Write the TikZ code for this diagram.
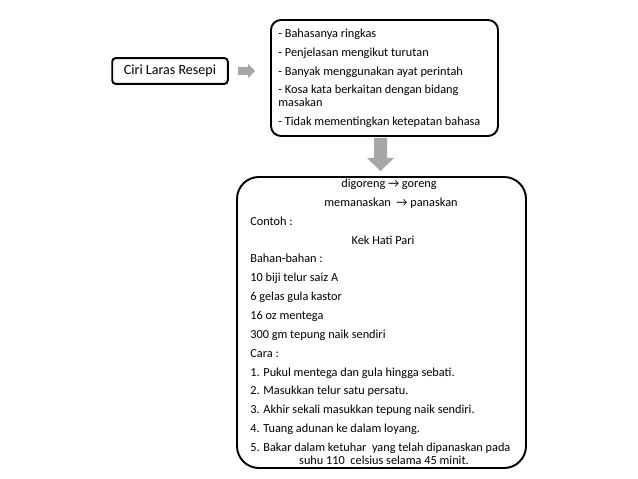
\documentclass[tikz,border=0pt]{standalone}
\usepackage{fontspec}
\setmainfont{Carlito}

\begin{document}
\begin{tikzpicture}[x=0.02cm, y=-0.02cm,
    txt/.style = {inner sep=0pt, text height=5pt, text depth=1.5pt,
                  font=\fontsize{7}{8.5}\selectfont},
    box/.style = {draw, line width=1.1pt},
    grey arrow/.style = {fill=black!35, draw=none}]
     \useasboundingbox (0,0) rectangle (638,479);

     % left label
     \node[box, rounded corners=2pt, minimum width=116*0.567pt, minimum height=26*0.567pt,
           font=\fontsize{8}{9}\selectfont] (ciri) at (170,71) {Ciri Laras Resepi};

     % top box with the list
     \draw[box, rounded corners=10*0.567pt] (271,20) rectangle (498,136);
     \node[txt, anchor=west] (c1) at (278,34) {- Bahasanya ringkas};
     \node[txt, anchor=west] (c2) at (278,53) {- Penjelasan mengikut turutan};
     \node[txt, anchor=west] (c3) at (278,72) {- Banyak menggunakan ayat perintah};
     \node[txt, anchor=west] (c4) at (278,90) {- Kosa kata berkaitan dengan bidang};
     \node[txt, anchor=west] (c4b) at (278,103) {masakan};
     \node[txt, anchor=west] (c5) at (278,122) {- Tidak mementingkan ketepatan bahasa};

     % arrows
     \fill[grey arrow] (238,67) -- (248,67) -- (248,64) -- (255,71) -- (248,78)
                       -- (248,75) -- (238,75) -- cycle;
     \fill[grey arrow] (374,138) -- (387,138) -- (387,158) -- (394,158) -- (380.5,171)
                       -- (367,158) -- (374,158) -- cycle;

     % bottom box with the example
     \draw[box, rounded corners=22*0.567pt] (237,177) rectangle (526,468);
     \node[txt] (e1) at (389,184) {digoreng → goreng};
     \node[txt] (e2) at (391,203) {memanaskan ~→ panaskan};
     \node[txt, anchor=west] (e3) at (250,222) {Contoh :};
     \node[txt] (e4) at (383,241) {Kek Hati Pari};
     \foreach \t [count=\i from 4] in {Bahan-bahan :, 10 biji telur saiz A,
         6 gelas gula kastor, 16 oz mentega, 300 gm tepung naik sendiri, Cara :,
         1. Pukul mentega dan gula hingga sebati.,
         2. Masukkan telur satu persatu.,
         3. Akhir sekali masukkan tepung naik sendiri.,
         4. Tuang adunan ke dalam loyang.,
         5. Bakar dalam ketuhar ~yang telah dipanaskan pada}
       \node[txt, anchor=west] (r\i) at (250,184+18.9*\i) {\t};
     \node[txt] (r15) at (384,461) {suhu 110 ~celsius selama 45 minit.};
\end{tikzpicture}
\end{document}
